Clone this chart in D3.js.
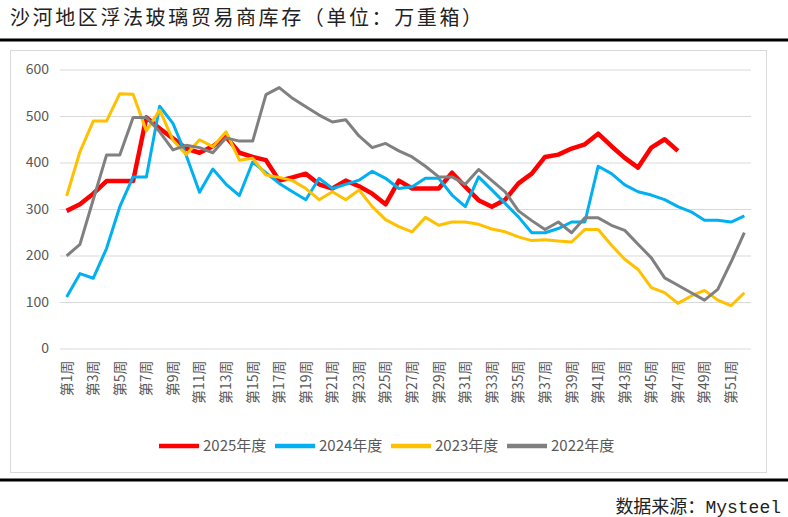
<!DOCTYPE html>
<html>
<head>
<meta charset="utf-8">
<script src="https://cdn.jsdelivr.net/npm/d3@7"></script>
<style>
  body { margin: 0; background: #fff; }
  svg text { font-family: "Noto Sans CJK SC", "Noto Sans", sans-serif; }
</style>
</head>
<body>
<div id="chart"></div>
<script>
// weeks 1..52
const weeks = d3.range(1, 53).map(w => '第' + w + '周');

const seriesNames = ['2025年度', '2024年度', '2023年度', '2022年度'];

const s2025 = [296, 310, 333, 360, 360, 360, 497, 473, 452, 430, 421, 435, 455, 421, 412, 405,
  361, 368, 376, 353, 344, 361, 349, 333, 310, 361, 344, 344, 344, 378, 348, 319, 305, 320,
  355, 376, 412, 417, 430, 439, 462, 435, 410, 389, 432, 450, 425];

const s2024 = [111, 161, 151, 215, 305, 369, 369, 521, 484, 415, 336, 386, 353, 329, 401, 378,
  355, 337, 320, 366, 344, 353, 362, 381, 366, 344, 348, 366, 366, 330, 305, 369, 341, 312,
  283, 249, 249, 258, 272, 272, 392, 376, 352, 337, 330, 320, 305, 294, 276, 276, 272, 285];

const s2023 = [328, 423, 489, 489, 548, 547, 468, 513, 448, 417, 449, 434, 466, 405, 409, 373,
  368, 361, 344, 320, 337, 320, 341, 305, 277, 262, 251, 282, 265, 272, 272, 267, 257, 251,
  240, 232, 234, 231, 229, 256, 256, 222, 192, 170, 131, 120, 97, 113, 125, 104, 92, 120];

const s2022 = [199, 224, 320, 416, 416, 497, 497, 466, 427, 437, 432, 421, 453, 446, 446, 546,
  561, 538, 520, 502, 487, 492, 457, 432, 441, 425, 412, 392, 369, 369, 353, 385, 361, 337,
  296, 275, 256, 272, 249, 281, 281, 265, 254, 224, 195, 152, 136, 120, 104, 127, 186, 249];

const yTicks = [0, 100, 200, 300, 400, 500, 600];

const colors = ['#ff0000', '#00b0f0', '#ffc000', '#808080'];
const widths = [4.5, 3, 3, 3];
const allSeries = [s2025, s2024, s2023, s2022];

const W = 788, H = 517;
const plot = { left: 60, right: 751, top: 69.5, bottom: 348.5 };

const svg = d3.select('#chart').append('svg')
  .attr('width', W).attr('height', H);

// title and rules
svg.append('text')
  .attr('x', 10).attr('y', 25)
  .attr('font-size', 20).attr('letter-spacing', 2.6)
  .attr('fill', '#222')
  .text('沙河地区浮法玻璃贸易商库存（单位：万重箱）');

svg.append('line')
  .attr('x1', 0).attr('x2', W).attr('y1', 40).attr('y2', 40)
  .attr('stroke', '#000').attr('stroke-width', 3);

svg.append('rect')
  .attr('x', 10.5).attr('y', 50.5).attr('width', 756).attr('height', 422)
  .attr('fill', '#fff').attr('stroke', '#d9d9d9');

svg.append('line')
  .attr('x1', 0).attr('x2', W).attr('y1', 480).attr('y2', 480)
  .attr('stroke', '#000').attr('stroke-width', 3);

svg.append('text')
  .attr('x', 781).attr('y', 513).attr('text-anchor', 'end')
  .attr('font-size', 18).attr('fill', '#222')
  .call(t => {
    t.append('tspan').text('数据来源：');
    t.append('tspan').attr('font-family', '"Liberation Mono", "DejaVu Sans Mono", monospace').text('Mysteel');
  });

// scales
const x = d3.scaleBand()
  .domain(weeks)
  .range([plot.left, plot.right])
  .padding(0);

const y = d3.scaleLinear()
  .domain([0, 600])
  .range([plot.bottom, plot.top]);

const cx = i => x(weeks[i]) + x.bandwidth() / 2;

// gridlines + y labels
const yAxis = svg.append('g')
  .attr('transform', `translate(${plot.left},0)`)
  .call(d3.axisLeft(y).tickValues(yTicks).tickSize(-(plot.right - plot.left)).tickPadding(11))
  .call(g => g.select('.domain').remove());
yAxis.selectAll('.tick line').attr('stroke', '#d9d9d9').attr('stroke-width', 1.2);
yAxis.selectAll('.tick text')
  .attr('font-size', 14).attr('fill', '#595959')
  .attr('font-family', '"Noto Sans", sans-serif');

// x labels, every other week, rotated
const xAxis = svg.append('g')
  .attr('transform', `translate(0,${plot.bottom})`)
  .call(d3.axisBottom(x).tickValues(weeks.filter((d, i) => i % 2 === 0)).tickSize(0))
  .call(g => g.select('.domain').remove());
xAxis.selectAll('.tick text')
  .attr('font-size', 14).attr('fill', '#595959')
  .attr('transform', 'rotate(-90)')
  .attr('text-anchor', 'end')
  .attr('x', -12).attr('y', 0).attr('dy', '0.35em');

// lines
const line = d3.line()
  .x((d, i) => cx(i))
  .y(d => y(d));

allSeries.forEach((s, k) => {
  svg.append('path')
    .datum(s)
    .attr('fill', 'none')
    .attr('stroke', colors[k])
    .attr('stroke-width', widths[k])
    .attr('stroke-linejoin', 'round')
    .attr('d', line);
});

// legend
const legend = svg.append('g').attr('transform', 'translate(159,446)');
seriesNames.forEach((name, k) => {
  const g = legend.append('g').attr('transform', `translate(${k * 116},0)`);
  g.append('line')
    .attr('x1', 0).attr('x2', 40).attr('y1', 0).attr('y2', 0)
    .attr('stroke', colors[k]).attr('stroke-width', 4.5);
  g.append('text')
    .attr('x', 44).attr('y', 0).attr('dy', '0.35em')
    .attr('font-size', 15).attr('fill', '#595959')
    .text(name);
});
</script>
</body>
</html>
